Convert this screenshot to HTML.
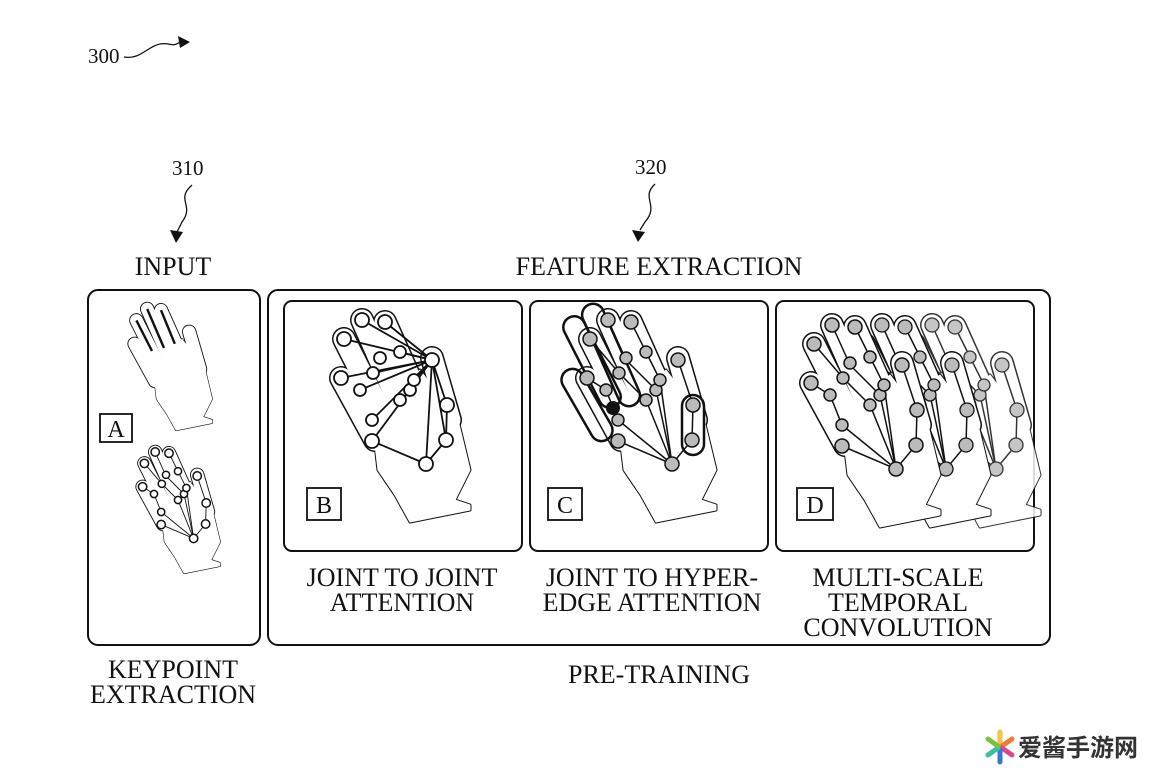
<!DOCTYPE html>
<html><head><meta charset="utf-8"><style>
html,body{margin:0;padding:0;background:#fff;}
svg{display:block}
text{font-family:"Liberation Serif",serif;fill:#111}
</style></head><body>
<svg width="1168" height="775" viewBox="0 0 1168 775" xmlns="http://www.w3.org/2000/svg">
<defs>
  <g id="hshape">
    <g stroke="#111" stroke-linecap="round" stroke-linejoin="round" fill="none">
      <g stroke-width="24">
        <line x1="344" y1="339" x2="385" y2="420"/>
        <line x1="362" y1="320" x2="402" y2="410"/>
        <line x1="385" y1="322" x2="420" y2="400"/>
        <line x1="341" y1="378" x2="375" y2="440"/>
        <line x1="432" y1="358" x2="450" y2="420"/>
      </g>
      <polygon points="372,420 420,370 458,420 470,470 455,500 470,505 470,510 410,522 395,495 378,470" fill="#111" stroke-width="3"/>
      <g stroke="#fff" stroke-width="21">
        <line x1="344" y1="339" x2="385" y2="420"/>
        <line x1="362" y1="320" x2="402" y2="410"/>
        <line x1="385" y1="322" x2="420" y2="400"/>
        <line x1="341" y1="378" x2="375" y2="440"/>
        <line x1="432" y1="358" x2="450" y2="420"/>
      </g>
      <polygon points="372,420 420,370 458,420 470,470 455,500 470,505 470,510 410,522 395,495 378,470" fill="#fff" stroke="#fff" stroke-width="1"/>
    </g>
  </g>
  <g id="skel" stroke="#111" stroke-width="1.5" fill="none">
    <polyline points="344,339 373,373 400,400 426,464"/>
    <polyline points="362,320 380,360 410,390 426,464"/>
    <polyline points="385,322 400,352 414,380 426,464"/>
    <polyline points="341,378 360,390 372,420 426,464"/>
    <polyline points="432,360 447,405 446,440 426,464"/>
    <polyline points="372,441 426,464"/>
  </g>
  <g id="joints">
    <circle cx="344" cy="339" r="7"/><circle cx="362" cy="320" r="7"/><circle cx="385" cy="322" r="7"/>
    <circle cx="341" cy="378" r="7"/><circle cx="373" cy="373" r="6"/><circle cx="380" cy="358" r="6"/>
    <circle cx="400" cy="352" r="6"/><circle cx="360" cy="390" r="6"/><circle cx="372" cy="420" r="6"/>
    <circle cx="410" cy="390" r="6"/><circle cx="400" cy="400" r="6"/><circle cx="414" cy="380" r="6"/>
    <circle cx="447" cy="405" r="7"/><circle cx="446" cy="440" r="7"/><circle cx="426" cy="464" r="7"/>
    <circle cx="372" cy="441" r="7"/><circle cx="432" cy="360" r="7"/>
  </g>
</defs>

<text x="88" y="63" font-size="21">300</text>
<path d="M124,57 C140,60 148,46 160,44 C170,42 172,48 180,42" stroke="#111" stroke-width="1.3" fill="none"/>
<polygon points="178,36 190,42 180,48" fill="#111"/>

<text x="172" y="175" font-size="21">310</text>
<path d="M192,185 C175,200 195,205 182,222 L177,232" stroke="#111" stroke-width="1.3" fill="none"/>
<polygon points="170,230 176,243 183,232" fill="#111"/>
<text x="635" y="174" font-size="21">320</text>
<path d="M655,184 C640,198 660,205 645,222 L640,230" stroke="#111" stroke-width="1.3" fill="none"/>
<polygon points="632,230 638,242 645,232" fill="#111"/>

<text x="173" y="275" font-size="26" text-anchor="middle">INPUT</text>
<text x="659" y="275" font-size="26" text-anchor="middle">FEATURE EXTRACTION</text>

<g fill="none" stroke="#111" stroke-width="2">
  <rect x="88" y="290" width="172" height="355" rx="10"/>
  <rect x="268" y="290" width="782" height="355" rx="10"/>
  <rect x="284" y="301" width="238" height="250" rx="8"/>
  <rect x="530" y="301" width="238" height="250" rx="8"/>
  <rect x="776" y="301" width="258" height="250" rx="8"/>
</g>

<g transform="translate(-70,117) scale(0.6)">
  <use href="#hshape"/>
  <g stroke="#111" stroke-width="4" fill="none"><line x1="344" y1="339" x2="370" y2="390"/><line x1="362" y1="320" x2="390" y2="385"/><line x1="385" y1="322" x2="408" y2="378"/></g>
</g>
<g transform="translate(-62,260) scale(0.6)">
  <use href="#hshape"/>
  <use href="#skel" stroke-width="3"/>
  <g fill="#fff" stroke="#111" stroke-width="2.5"><use href="#joints"/></g>
</g>

<use href="#hshape"/>
<g stroke="#111" stroke-width="1.8">
  <line x1="432" y1="360" x2="344" y2="339"/><line x1="432" y1="360" x2="362" y2="320"/>
  <line x1="432" y1="360" x2="385" y2="322"/><line x1="432" y1="360" x2="341" y2="378"/>
  <line x1="432" y1="360" x2="373" y2="373"/><line x1="432" y1="360" x2="400" y2="352"/>
  <line x1="432" y1="360" x2="360" y2="390"/><line x1="432" y1="360" x2="372" y2="420"/>
  <line x1="432" y1="360" x2="372" y2="441"/><line x1="432" y1="360" x2="426" y2="464"/>
  <line x1="432" y1="360" x2="447" y2="405"/><line x1="432" y1="360" x2="414" y2="380"/>
  <line x1="432" y1="360" x2="446" y2="440"/><line x1="372" y1="441" x2="426" y2="464"/>
  <line x1="446" y1="440" x2="426" y2="464"/><line x1="447" y1="405" x2="446" y2="440"/>
</g>
<g fill="#fff" stroke="#111" stroke-width="1.8"><use href="#joints"/></g>

<g transform="translate(246,0)">
  <use href="#hshape"/>
  <use href="#skel"/>
  <g fill="none" stroke="#111" stroke-width="2.5">
    <rect x="335" y="312" width="22" height="100" rx="11" transform="rotate(-27 346 362)"/>
    <rect x="354" y="300" width="22" height="110" rx="11" transform="rotate(-24 365 355)"/>
    <rect x="330" y="365" width="22" height="80" rx="11" transform="rotate(-30 341 405)"/>
    <rect x="436" y="395" width="22" height="60" rx="11"/>
  </g>
  <g fill="#bbb" stroke="#111" stroke-width="1.5"><use href="#joints"/></g>
  <circle cx="367" cy="408" r="7" fill="#111"/>
</g>

<g transform="translate(570,5)" opacity="0.85">
  <use href="#hshape"/><use href="#skel"/>
  <g fill="#bbb" stroke="#111" stroke-width="1.3"><use href="#joints"/></g>
</g>
<g transform="translate(520,5)">
  <use href="#hshape"/><use href="#skel"/>
  <g fill="#bbb" stroke="#111" stroke-width="1.3"><use href="#joints"/></g>
</g>
<g transform="translate(470,5)">
  <use href="#hshape"/><use href="#skel"/>
  <g fill="#bbb" stroke="#111" stroke-width="1.5"><use href="#joints"/></g>
</g>

<g fill="#fff" stroke="#111" stroke-width="1.8">
  <rect x="100" y="414" width="32" height="28"/>
  <rect x="307" y="488" width="34" height="32"/>
  <rect x="548" y="488" width="34" height="32"/>
  <rect x="797" y="488" width="36" height="32"/>
</g>
<text x="116" y="437" font-size="24" text-anchor="middle">A</text>
<text x="324" y="513" font-size="24" text-anchor="middle">B</text>
<text x="565" y="513" font-size="24" text-anchor="middle">C</text>
<text x="815" y="513" font-size="24" text-anchor="middle">D</text>

<g font-size="26" text-anchor="middle">
<text x="402" y="586">JOINT TO JOINT</text>
<text x="402" y="611">ATTENTION</text>
<text x="652" y="586">JOINT TO HYPER-</text>
<text x="652" y="611">EDGE ATTENTION</text>
<text x="898" y="586">MULTI-SCALE</text>
<text x="898" y="611">TEMPORAL</text>
<text x="898" y="636">CONVOLUTION</text>
<text x="173" y="678">KEYPOINT</text>
<text x="173" y="703">EXTRACTION</text>
<text x="659" y="683">PRE-TRAINING</text>
</g>

<g transform="translate(1000,747)">
  <g stroke-width="5" stroke-linecap="round">
    <line x1="0" y1="-3" x2="0" y2="-15" stroke="#f5c242"/>
    <line x1="2" y1="-1" x2="12" y2="-8" stroke="#f07a3a"/>
    <line x1="2" y1="1" x2="12" y2="8" stroke="#d94a8c"/>
    <line x1="0" y1="3" x2="0" y2="15" stroke="#3a78d0"/>
    <line x1="-2" y1="1" x2="-12" y2="8" stroke="#3bbfa0"/>
    <line x1="-2" y1="-1" x2="-12" y2="-8" stroke="#7cc043"/>
  </g>
</g>
<text x="1018" y="756" font-size="24" font-weight="bold" style="font-family:'Liberation Sans','Noto Sans CJK SC',sans-serif;fill:#333">爱酱手游网</text>
</svg>
</body></html>
